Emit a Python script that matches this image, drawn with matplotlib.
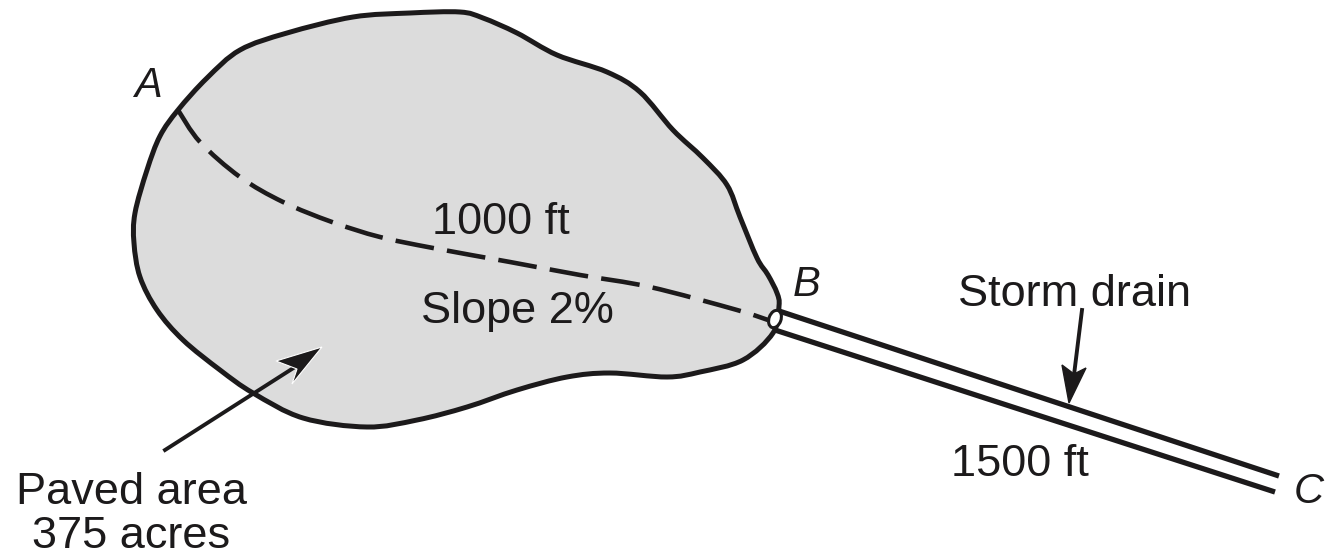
import numpy as np
import matplotlib
matplotlib.use("Agg")
import matplotlib.pyplot as plt
from matplotlib.path import Path
from matplotlib.patches import PathPatch, Ellipse, Polygon

plt.rcParams['font.family'] = ['Liberation Sans', 'DejaVu Sans']

# outline of the paved area, pixels
outline_x = [178, 207, 240, 287, 353, 410, 460, 483, 517, 557, 607, 640, 673, 703, 727, 740, 757, 768, 777, 779, 773, 743, 700, 667, 610, 567, 517, 467, 417, 367, 303, 253, 220, 183, 157, 140, 134, 135, 147, 160, 178]
outline_y = [110, 78, 50, 33, 17, 13, 12, 18, 33, 55, 72, 92, 130, 158, 185, 217, 258, 275, 293, 306, 333, 360, 372, 377, 373, 377, 390, 407, 420, 427, 418, 393, 370, 340, 310, 277, 243, 213, 170, 136, 110]

flow_x = [178, 200, 240, 283, 332, 380, 433, 510, 580, 650, 737, 768]
flow_y = [110, 142, 177, 202, 222, 237, 248, 262, 275, 287, 310, 320]

drain_top_x = [779, 1279]
drain_top_y = [311, 476]
drain_bot_x = [775, 1275]
drain_bot_y = [330, 492]

labels = ["1000 ft", "Slope 2%", "Storm drain", "1500 ft", "Paved area", "375 acres"]
label_x = [501, 517, 1074, 1020, 131, 131]
label_y = [222, 312, 294, 465, 493, 536]

letters = ["A", "B", "C"]
letter_x = [148, 807, 1309]
letter_y = [86, 285, 492]

INK = '#1c1a1b'

fig = plt.figure(figsize=(13.31, 5.54), dpi=100)
ax = fig.add_axes([0, 0, 1, 1])
ax.set_xlim(0, 1331)
ax.set_ylim(554, 0)
ax.axis('off')

# smooth closed curve through the outline points
pts = np.column_stack([outline_x, outline_y]).astype(float)
codes = [Path.MOVETO]
verts = [pts[0]]
n = len(pts) - 1
for i in range(n):
    p0 = pts[(i - 1) % n]
    p1 = pts[i]
    p2 = pts[(i + 1) % n]
    p3 = pts[(i + 2) % n]
    verts += [p1 + (p2 - p0) / 6, p2 - (p3 - p1) / 6, p2]
    codes += [Path.CURVE4] * 3
ax.add_patch(PathPatch(Path(verts, codes), facecolor='#dcdcdc', edgecolor=INK, lw=3.6, zorder=1))

# same smoothing for the dashed flow path
fp = np.column_stack([flow_x, flow_y]).astype(float)
fverts = [fp[0]]
fcodes = [Path.MOVETO]
for i in range(len(fp) - 1):
    p0 = fp[max(i - 1, 0)]
    p1 = fp[i]
    p2 = fp[i + 1]
    p3 = fp[min(i + 2, len(fp) - 1)]
    fverts += [p1 + (p2 - p0) / 6, p2 - (p3 - p1) / 6, p2]
    fcodes += [Path.CURVE4] * 3
flow_patch = PathPatch(Path(fverts, fcodes), facecolor='none', edgecolor=INK, lw=3.3, zorder=2)
flow_patch.set_linestyle((0, (8.5, 2.9)))
ax.add_patch(flow_patch)

ax.plot(drain_top_x, drain_top_y, color=INK, lw=3.8, zorder=2, solid_capstyle='butt')
ax.plot(drain_bot_x, drain_bot_y, color=INK, lw=3.8, zorder=2, solid_capstyle='butt')
ax.add_patch(Ellipse((775, 319), 12, 18, angle=20, facecolor='white', edgecolor=INK, lw=2.2, zorder=3))

# arrows
ax.plot([165, 295], [450, 367], color=INK, lw=2.8, zorder=4)
ax.add_patch(Polygon([[322, 347], [276, 361], [297, 369], [292, 384]], closed=True, facecolor=INK,
                     edgecolor='white', lw=0.8, zorder=4))
ax.plot([1082, 1074], [310, 375], color=INK, lw=2.8, zorder=4)
ax.add_patch(Polygon([[1069, 403], [1062, 365], [1074, 374], [1086, 368]], closed=True, color=INK, zorder=4))

for t, x, y in zip(labels, label_x, label_y):
    ax.text(x, y, t, fontsize=32.5, color=INK, ha='center', va='center', zorder=5)
for t, x, y in zip(letters, letter_x, letter_y):
    ax.text(x, y, t, fontsize=30, color=INK, ha='center', va='center', style='italic', zorder=5)

fig.savefig('out.png', dpi=100)
